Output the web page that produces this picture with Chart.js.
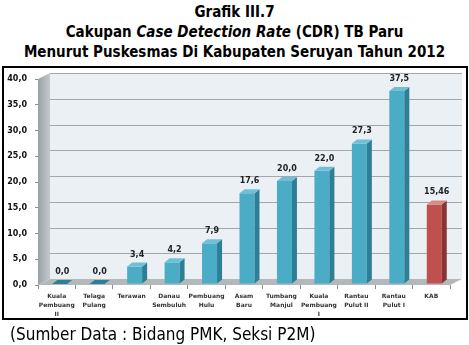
<!DOCTYPE html>
<html>
<head>
<meta charset="utf-8">
<script src="https://cdn.jsdelivr.net/npm/chart.js@4"></script>
<style>
  html, body { margin:0; padding:0; background:#fff; }
  #wrap { position:relative; width:469px; height:345px; overflow:hidden; }
  #title { position:absolute; left:0; top:2px; width:469px; text-align:center;
           font-family:"DejaVu Sans Condensed", "DejaVu Sans", sans-serif; font-stretch:condensed; font-weight:bold; font-size:15px;
           line-height:20px; color:#000; }
  #box { position:absolute; left:2px; top:66px; width:466px; height:254px;
         border:2px solid #000; box-sizing:border-box; }
  #src { position:absolute; left:10px; top:323px; font-family:"DejaVu Sans Condensed", "DejaVu Sans", sans-serif; font-stretch:condensed;
         font-size:17px; line-height:22px; color:#000; white-space:nowrap; }
  canvas { position:absolute; left:0; top:0; }
</style>
</head>
<body>
<div id="wrap">
  <div id="title">Grafik III.7<br>Cakupan <i>Case Detection Rate</i> (CDR) TB Paru<br>Menurut Puskesmas Di Kabupaten Seruyan Tahun 2012</div>
  <div id="box"></div>
  <canvas id="c" width="469" height="345"></canvas>
  <div id="src">(Sumber Data : Bidang PMK, Seksi P2M)</div>
</div>
<script>
// ---- data ----
const categories = [
  ["Kuala", "Pembuang", "II"],
  ["Telaga", "Pulang"],
  ["Terawan"],
  ["Danau", "Sembuluh"],
  ["Pembuang", "Hulu"],
  ["Asam", "Baru"],
  ["Tumbang", "Manjul"],
  ["Kuala", "Pembuang", "I"],
  ["Rantau", "Pulut II"],
  ["Rantau", "Pulut I"],
  ["KAB"]
];
const cdrValues = [0.0, 0.0, 3.4, 4.2, 7.9, 17.6, 20.0, 22.0, 27.3, 37.5, 15.46];
const valueLabels = ["0,0", "0,0", "3,4", "4,2", "7,9", "17,6", "20,0", "22,0", "27,3", "37,5", "15,46"];
const yTicks = [0, 5, 10, 15, 20, 25, 30, 35, 40];

// ---- styles ----
const frontColors = cdrValues.map((v, i) => i === cdrValues.length - 1 ? '#c0504d' : '#4bacc6');
const sideColors  = cdrValues.map((v, i) => i === cdrValues.length - 1 ? '#8a3533' : '#2e7f95');
const topColors   = cdrValues.map((v, i) => i === cdrValues.length - 1 ? '#d98a88' : '#6fc0d6');

const DX = 12, DY = -6;   // wall depth
const BDX = 5, BDY = 4;   // bar depth
const SHX = 3, SHY = -1;  // bar offset into depth

const wallsPlugin = {
  id: 'walls',
  beforeDatasetsDraw(chart) {
    const ctx = chart.ctx, ca = chart.chartArea, ys = chart.scales.y;
    ctx.save();
    ctx.fillStyle = '#ebf0f5';
    ctx.fillRect(ca.left + DX, ca.top + DY, ca.right - ca.left, ca.bottom - ca.top);
    ctx.strokeStyle = '#a3a7aa';
    ctx.lineWidth = 1;
    yTicks.forEach(v => {
      if (v === 0) return;
      const y = Math.round(ys.getPixelForValue(v) + DY) + 0.5;
      ctx.beginPath();
      ctx.moveTo(ca.left + DX, y);
      ctx.lineTo(ca.right + DX, y);
      ctx.stroke();
    });
    const g = ctx.createLinearGradient(ca.left, 0, ca.left + DX, 0);
    g.addColorStop(0, '#9aa1a6');
    g.addColorStop(1, '#c3c8cb');
    ctx.fillStyle = g;
    ctx.beginPath();
    ctx.moveTo(ca.left, ca.top);
    ctx.lineTo(ca.left + DX, ca.top + DY);
    ctx.lineTo(ca.left + DX, ca.bottom + DY);
    ctx.lineTo(ca.left, ca.bottom);
    ctx.closePath();
    ctx.fill();
    ctx.fillStyle = '#b3b8bb';
    ctx.beginPath();
    ctx.moveTo(ca.left, ca.bottom);
    ctx.lineTo(ca.left + DX, ca.bottom + DY);
    ctx.lineTo(ca.right + DX, ca.bottom + DY);
    ctx.lineTo(ca.right, ca.bottom);
    ctx.closePath();
    ctx.fill();
    ctx.restore();
    ctx.save();
    ctx.translate(SHX, SHY);
  },
  afterDatasetsDraw(chart) {
    const ctx = chart.ctx;
    ctx.restore();
    const meta = chart.getDatasetMeta(0);
    ctx.save();
    ctx.translate(SHX, SHY);
    meta.data.forEach((bar, i) => {
      const p = bar.getProps(['x', 'y', 'base', 'width'], true);
      const l = p.x - p.width / 2, r = p.x + p.width / 2;
      const top = Math.min(p.y, p.base), bot = p.base;
      ctx.fillStyle = sideColors[i];
      ctx.beginPath();
      ctx.moveTo(r, top);
      ctx.lineTo(r + BDX, top - BDY);
      ctx.lineTo(r + BDX, bot - BDY);
      ctx.lineTo(r, bot);
      ctx.closePath();
      ctx.fill();
      ctx.fillStyle = cdrValues[i] === 0 ? sideColors[i] : topColors[i];
      ctx.beginPath();
      ctx.moveTo(l, top);
      ctx.lineTo(l + BDX, top - BDY);
      ctx.lineTo(r + BDX, top - BDY);
      ctx.lineTo(r, top);
      ctx.closePath();
      ctx.fill();
      ctx.fillStyle = '#222';
      ctx.font = 'bold 8px "DejaVu Sans"';
      ctx.textAlign = 'center';
      ctx.textBaseline = 'middle';
      ctx.fillText(valueLabels[i], p.x + BDX / 2, top - 12);
    });
    ctx.restore();
  }
};

function draw() {
  new Chart(document.getElementById('c'), {
    type: 'bar',
    data: {
      labels: categories,
      datasets: [{
        data: cdrValues,
        backgroundColor: frontColors,
        borderWidth: 0,
        barPercentage: 0.4,
        categoryPercentage: 1.0
      }]
    },
    options: {
      responsive: false,
      animation: false,
      events: [],
      layout: { padding: { left: 0, right: 19, top: 79, bottom: 0 } },
      plugins: { legend: { display: false }, tooltip: { enabled: false } },
      scales: {
        x: {
          afterFit(s) { s.height = 60; },
          grid: { drawOnChartArea: false, drawTicks: true, tickLength: 4, color: '#8c8c8c', offset: true },
          border: { display: false },
          ticks: {
            autoSkip: false, maxRotation: 0, minRotation: 0, padding: 3,
            color: '#333',
            font: { family: '"DejaVu Sans"', weight: 'bold', size: 6, lineHeight: 1.5 }
          }
        },
        y: {
          min: 0, max: 40,
          afterFit(s) { s.width = 38; },
          afterBuildTicks(s) { s.ticks = yTicks.map(v => ({ value: v })); },
          grid: { drawOnChartArea: false, drawTicks: true, tickLength: 3, color: '#8c8c8c' },
          border: { display: false },
          ticks: {
            padding: 8,
            color: '#111',
            font: { family: '"DejaVu Sans"', weight: 'bold', size: 8 },
            callback: v => v.toFixed(1).replace('.', ',')
          }
        }
      }
    },
    plugins: [wallsPlugin]
  });
}
if (document.fonts && document.fonts.load) {
  Promise.all([
    document.fonts.load('bold 8px "DejaVu Sans"'),
    document.fonts.load('bold 15px "DejaVu Sans Condensed"'),
    document.fonts.load('17px "DejaVu Sans Condensed"')
  ]).then(draw, draw);
} else { draw(); }
</script>
</body>
</html>
